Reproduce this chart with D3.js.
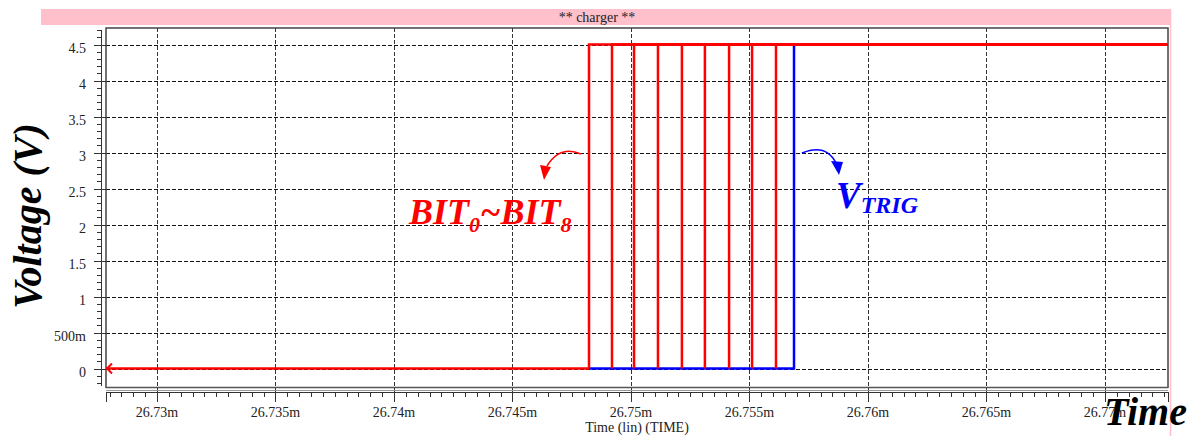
<!DOCTYPE html>
<html>
<head>
<meta charset="utf-8">
<script src="https://cdn.jsdelivr.net/npm/d3@7"></script>
<style>
  body { margin: 0; background: #fff; }
  text { font-family: "Liberation Serif", "Times New Roman", serif; }
</style>
</head>
<body>
<script>
// times in "m" (ms) units, as on the axis
const timeDomain = [26.72785, 26.77266]
const voltDomain = [-0.27, 4.73]
const xTicks = [26.73, 26.735, 26.74, 26.745, 26.75, 26.755, 26.76, 26.765, 26.77]
const yTicks = [0, 0.5, 1, 1.5, 2, 2.5, 3, 3.5, 4, 4.5]
const yTickLabels = ['0', '500m', '1', '1.5', '2', '2.5', '3', '3.5', '4', '4.5']

// rising edges of BIT0..BIT8 and VTRIG
const bitRise = [26.74823, 26.7492, 26.75013, 26.75114, 26.75215, 26.75312, 26.75414, 26.75511, 26.75612]
const trigStart = 26.74823
const trigRise = 26.75688
const lowLevel = 0
const highLevel = 4.5

const width = 1201, height = 436
const plotLeft = 106, plotRight = 1168, plotTop = 28, plotBottom = 388

const svg = d3.select('body').append('svg')
  .attr('width', width)
  .attr('height', height)

const x = d3.scaleLinear().domain(timeDomain).range([plotLeft, plotRight])
const y = d3.scaleLinear().domain(voltDomain).range([plotBottom, plotTop])

// pink title band
svg.append('rect')
  .attr('x', 41).attr('y', 9).attr('width', 1129).attr('height', 16)
  .attr('fill', '#ffc0cb')
svg.append('line')
  .attr('x1', 1170.5).attr('x2', 1170.5).attr('y1', 9).attr('y2', height)
  .attr('stroke', '#ffc0cb').attr('stroke-width', 1.5)
svg.append('text')
  .attr('x', 597).attr('y', 22)
  .attr('text-anchor', 'middle')
  .attr('font-size', 14)
  .attr('fill', '#222')
  .text('** charger **')

// grid
svg.append('g').selectAll('line')
  .data(yTicks).enter().append('line')
  .attr('x1', plotLeft).attr('x2', plotRight)
  .attr('y1', d => Math.round(y(d)) + 0.5).attr('y2', d => Math.round(y(d)) + 0.5)
  .attr('stroke', '#111').attr('stroke-dasharray', '4,2')
svg.append('g').selectAll('line')
  .data(xTicks).enter().append('line')
  .attr('x1', d => Math.round(x(d)) + 0.5).attr('x2', d => Math.round(x(d)) + 0.5)
  .attr('y1', plotTop).attr('y2', 392)
  .attr('stroke', '#333').attr('stroke-dasharray', '4,2')

// frame
svg.append('path')
  .attr('d', `M${plotLeft},${plotBottom}V${plotTop}H${plotRight}V${plotBottom}`)
  .attr('fill', 'none').attr('stroke', '#444').attr('stroke-width', 1.5)
svg.append('line')
  .attr('x1', plotLeft).attr('x2', plotRight).attr('y1', plotBottom - 0.5).attr('y2', plotBottom - 0.5)
  .attr('stroke', '#555').attr('stroke-width', 1.5)
svg.append('line')
  .attr('x1', plotLeft).attr('x2', plotRight).attr('y1', 390.5).attr('y2', 390.5)
  .attr('stroke', '#999')

// y axis with minor ticks
const yAxis = svg.append('g').attr('transform', 'translate(101,0)')
yAxis.append('line')
  .attr('x1', 0.5).attr('x2', 0.5).attr('y1', y(voltDomain[1]) + 2).attr('y2', y(voltDomain[0]) - 2)
  .attr('stroke', '#333')
yAxis.selectAll('line.minor')
  .data(d3.range(-2, 48).map(i => i / 10))
  .enter().append('line').classed('minor', true)
  .attr('x1', -4).attr('x2', 0.5)
  .attr('y1', d => Math.round(y(d)) + 0.5).attr('y2', d => Math.round(y(d)) + 0.5)
  .attr('stroke', '#333')
yAxis.selectAll('line.major')
  .data(yTicks).enter().append('line').classed('major', true)
  .attr('x1', -7).attr('x2', 5)
  .attr('y1', d => Math.round(y(d)) + 0.5).attr('y2', d => Math.round(y(d)) + 0.5)
  .attr('stroke', '#333')
yAxis.selectAll('text')
  .data(yTicks).enter().append('text')
  .attr('x', -15).attr('y', d => y(d) + 8)
  .attr('text-anchor', 'end')
  .attr('font-size', 14)
  .attr('fill', '#222')
  .text((d, i) => yTickLabels[i])

// x axis with minor ticks
const xAxis = svg.append('g').attr('transform', 'translate(0,392)')
xAxis.append('line')
  .attr('x1', plotLeft).attr('x2', plotRight).attr('y1', 0.5).attr('y2', 0.5)
  .attr('stroke', '#333')
const minorT = d3.range(0, 90).map(i => +(26.728 + i * 0.0005).toFixed(4))
  .filter(t => t >= timeDomain[0] && t <= timeDomain[1])
xAxis.selectAll('line.minor')
  .data(minorT).enter().append('line').classed('minor', true)
  .attr('x1', d => Math.round(x(d)) + 0.5).attr('x2', d => Math.round(x(d)) + 0.5)
  .attr('y1', 0).attr('y2', 5)
  .attr('stroke', '#333')
xAxis.selectAll('line.major')
  .data(xTicks.concat(timeDomain)).enter().append('line').classed('major', true)
  .attr('x1', d => Math.round(x(d)) + 0.5).attr('x2', d => Math.round(x(d)) + 0.5)
  .attr('y1', 0).attr('y2', 10)
  .attr('stroke', '#333')
xAxis.selectAll('text')
  .data(xTicks).enter().append('text')
  .attr('x', d => x(d)).attr('y', 25)
  .attr('text-anchor', 'middle')
  .attr('font-size', 14)
  .attr('fill', '#222')
  .text(d => d + 'm')
svg.append('text')
  .attr('x', 637).attr('y', 432)
  .attr('text-anchor', 'middle')
  .attr('font-size', 14)
  .attr('fill', '#222')
  .text('Time (lin) (TIME)')

// waveforms
const line = d3.line().x(d => x(d[0])).y(d => y(d[1]))
const red = '#ff0000', blue = '#0000ff'

// low parts of the bits first
svg.append('path')
  .attr('d', line([[timeDomain[0], lowLevel], [bitRise[0], lowLevel]]))
  .attr('fill', 'none').attr('stroke', red).attr('stroke-width', 2.5)

// VTRIG
svg.append('path')
  .attr('d', line([[trigStart, lowLevel], [trigRise, lowLevel], [trigRise, highLevel], [timeDomain[1], highLevel]]))
  .attr('fill', 'none').attr('stroke', blue).attr('stroke-width', 2.5)

// rising edges and high parts of the bits
svg.append('g').selectAll('path')
  .data(bitRise).enter().append('path')
  .attr('d', t => line([[t, lowLevel], [t, highLevel], [timeDomain[1], highLevel]]))
  .attr('fill', 'none').attr('stroke', red).attr('stroke-width', 2.5)

// arrow head on the left end of the red trace
const y0 = y(lowLevel)
svg.append('path')
  .attr('d', `M${plotLeft + 6},${y0 - 5}L${plotLeft + 1},${y0}L${plotLeft + 6},${y0 + 5}`)
  .attr('fill', 'none').attr('stroke', red).attr('stroke-width', 2)

// annotations
svg.append('path')
  .attr('d', 'M581,154 Q560,145 547,166')
  .attr('fill', 'none').attr('stroke', red).attr('stroke-width', 1.5)
svg.append('path')
  .attr('d', 'M544,180 L540,165 L551,167 Z')
  .attr('fill', red)
svg.append('path')
  .attr('d', 'M802,153 Q826,143 836,163')
  .attr('fill', 'none').attr('stroke', blue).attr('stroke-width', 1.5)
svg.append('path')
  .attr('d', 'M839,175 L831,161 L843,162 Z')
  .attr('fill', blue)

const bitLabel = svg.append('text')
  .attr('x', 409).attr('y', 224)
  .attr('font-size', 36).attr('font-weight', 'bold').attr('font-style', 'italic')
  .attr('fill', red)
bitLabel.append('tspan').text('BIT')
bitLabel.append('tspan').attr('font-size', 22).attr('dy', 8).text('0')
bitLabel.append('tspan').attr('dy', -8).text('~BIT')
bitLabel.append('tspan').attr('font-size', 22).attr('dy', 8).text('8')

const trigLabel = svg.append('text')
  .attr('x', 836).attr('y', 208)
  .attr('font-size', 37).attr('font-weight', 'bold').attr('font-style', 'italic')
  .attr('fill', blue)
trigLabel.append('tspan').text('V')
trigLabel.append('tspan').attr('font-size', 24).attr('dy', 5).text('TRIG')

svg.append('text')
  .attr('transform', 'translate(41,216) rotate(-90)')
  .attr('text-anchor', 'middle')
  .attr('font-size', 40).attr('font-weight', 'bold').attr('font-style', 'italic')
  .attr('fill', '#000')
  .text('Voltage (V)')

svg.append('text')
  .attr('x', 1104).attr('y', 425)
  .attr('font-size', 40).attr('font-weight', 'bold').attr('font-style', 'italic')
  .attr('fill', '#000')
  .text('Time')
</script>
</body>
</html>
